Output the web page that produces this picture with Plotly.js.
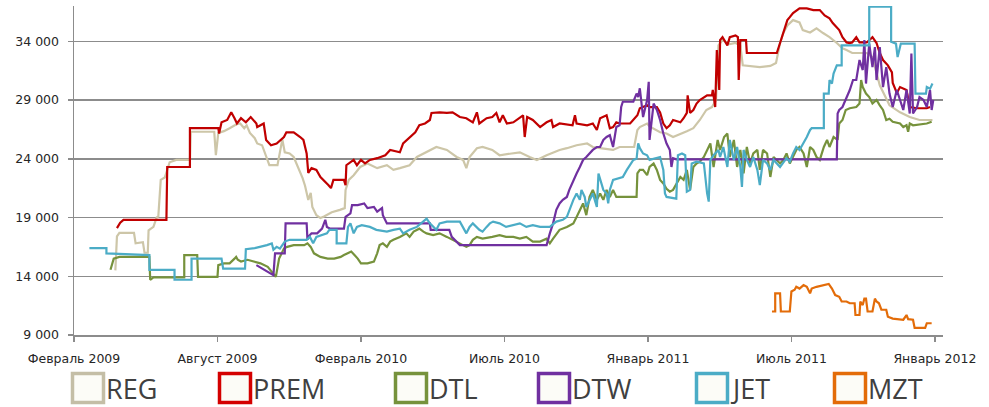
<!DOCTYPE html>
<html>
<head>
<meta charset="utf-8">
<script src="https://cdn.plot.ly/plotly-3.0.1.min.js"></script>
<style>html,body{margin:0;padding:0;background:#fff;}#chart{width:989px;height:407px;}</style>
</head>
<body>
<div id="chart"></div>
<script>
// ---- data ----
var seriesNames = ['REG', 'PREM', 'DTL', 'DTW', 'JET', 'MZT'];
var seriesColors = ['#cdc6a8', '#c00000', '#76923c', '#7030a0', '#4bacc6', '#e36c09'];
var legendColors = ['#c4bea6', '#d40000', '#76923c', '#7030a0', '#4bacc6', '#e36c09'];

var xTickDates = ['2009-02-15', '2009-08-11', '2010-02-04', '2010-07-31', '2011-01-24', '2011-07-20', '2012-01-13'];
var xTickLabels = ['Февраль 2009', 'Август 2009', 'Февраль 2010', 'Июль 2010', 'Январь 2011', 'Июль 2011', 'Январь 2012'];
var yTickValues = [9000, 14000, 19000, 24000, 29000, 34000];

var regDates = ['2009-04-07','2009-04-09','2009-04-12','2009-04-30','2009-05-02','2009-05-11','2009-05-13','2009-05-17','2009-05-18','2009-05-24','2009-05-28','2009-05-30','2009-06-02','2009-06-07','2009-06-13','2009-06-21','2009-07-08','2009-07-09','2009-08-07','2009-08-09','2009-08-12','2009-08-19','2009-08-26','2009-09-04','2009-09-08','2009-09-13','2009-09-16','2009-09-20','2009-09-26','2009-09-29','2009-10-05','2009-10-10','2009-10-14','2009-10-24','2009-10-27','2009-10-30','2009-11-02','2009-11-08','2009-11-13','2009-11-18','2009-11-21','2009-11-24','2009-11-27','2009-12-01','2009-12-04','2009-12-06','2009-12-11','2009-12-16','2009-12-21','2009-12-30','2010-01-09','2010-01-15','2010-01-16','2010-01-20','2010-01-26','2010-02-03','2010-02-12','2010-02-24','2010-03-08','2010-03-16','2010-03-24','2010-04-05','2010-04-14','2010-04-26','2010-05-08','2010-05-21','2010-06-02','2010-06-10','2010-06-14','2010-06-18','2010-06-27','2010-07-04','2010-07-16','2010-07-25','2010-08-06','2010-08-19','2010-08-31','2010-09-09','2010-09-21','2010-09-29','2010-10-07','2010-10-16','2010-10-28','2010-11-10','2010-11-17','2010-11-26','2010-12-12','2010-12-20','2011-01-07','2011-01-11','2011-01-14','2011-01-23','2011-01-26','2011-02-08','2011-02-16','2011-02-24','2011-03-05','2011-03-13','2011-03-21','2011-03-29','2011-04-06','2011-04-13','2011-04-18','2011-04-21','2011-04-26','2011-05-05','2011-05-12','2011-05-18','2011-05-21','2011-05-30','2011-06-11','2011-06-24','2011-07-01','2011-07-06','2011-07-10','2011-07-15','2011-07-22','2011-07-30','2011-08-03','2011-08-12','2011-08-20','2011-08-28','2011-09-05','2011-09-14','2011-09-21','2011-09-26','2011-10-03','2011-10-12','2011-10-21','2011-10-28','2011-11-06','2011-11-18','2011-12-01','2011-12-13','2011-12-25','2012-01-10'];
var regValues = [14500,17400,17700,17700,16800,16900,16000,16000,17900,18200,19000,19100,22200,22400,23700,23900,23900,26300,26300,24300,26200,26350,26600,26950,27000,26600,26850,26200,25750,25300,25150,24300,23450,23450,24450,25650,24550,24450,24150,23350,22850,22350,21700,20500,21100,19900,19200,18950,19100,19450,19650,19800,21350,22200,22600,23300,23600,23200,23450,23050,23200,23450,24150,24550,25000,24750,24150,23900,23200,24150,24900,25000,24750,24300,24450,24550,24150,23900,24300,24550,24750,24900,25150,25300,25000,24900,24750,25000,25000,26450,26700,27000,26750,26250,26150,25850,26150,26350,26600,27300,28150,28400,29000,33650,34100,33750,33850,33650,31950,31900,31800,31900,32150,33850,34700,35350,35800,35600,34950,34750,35100,34700,34350,33850,33400,33250,33000,33000,33000,32650,30250,28550,27950,27550,27300,27300];

var premDates = ['2009-04-09','2009-04-13','2009-04-17','2009-06-09','2009-06-10','2009-07-08','2009-07-08','2009-08-12','2009-08-13','2009-08-16','2009-08-23','2009-08-28','2009-09-01','2009-09-04','2009-09-09','2009-09-15','2009-09-21','2009-09-28','2009-09-29','2009-10-07','2009-10-10','2009-10-16','2009-10-23','2009-11-01','2009-11-04','2009-11-13','2009-11-21','2009-11-25','2009-11-29','2009-12-01','2009-12-05','2009-12-11','2009-12-16','2009-12-20','2009-12-26','2009-12-29','2010-01-01','2010-01-14','2010-01-16','2010-01-17','2010-01-22','2010-01-26','2010-01-30','2010-02-04','2010-02-09','2010-02-15','2010-02-24','2010-03-06','2010-03-12','2010-03-24','2010-03-28','2010-04-05','2010-04-12','2010-04-17','2010-04-24','2010-04-30','2010-05-02','2010-05-12','2010-05-21','2010-05-28','2010-06-06','2010-06-14','2010-06-22','2010-06-27','2010-06-30','2010-07-09','2010-07-16','2010-07-21','2010-07-25','2010-07-29','2010-08-03','2010-08-11','2010-08-19','2010-08-23','2010-08-25','2010-08-28','2010-09-04','2010-09-13','2010-09-21','2010-09-27','2010-09-29','2010-10-07','2010-10-23','2010-10-26','2010-10-28','2010-11-10','2010-11-17','2010-11-22','2010-11-26','2010-12-04','2010-12-08','2010-12-12','2010-12-16','2010-12-20','2011-01-02','2011-01-11','2011-01-14','2011-01-23','2011-01-26','2011-02-04','2011-02-08','2011-02-12','2011-02-16','2011-02-20','2011-02-24','2011-03-05','2011-03-09','2011-03-13','2011-03-14','2011-03-17','2011-03-21','2011-03-25','2011-03-29','2011-04-07','2011-04-13','2011-04-14','2011-04-17','2011-04-19','2011-04-22','2011-04-23','2011-04-26','2011-05-02','2011-05-05','2011-05-12','2011-05-15','2011-05-16','2011-05-18','2011-05-25','2011-05-26','2011-06-11','2011-06-27','2011-07-02','2011-07-06','2011-07-10','2011-07-15','2011-07-18','2011-07-22','2011-07-30','2011-08-08','2011-08-16','2011-08-24','2011-08-30','2011-09-05','2011-09-09','2011-09-17','2011-09-21','2011-09-26','2011-09-30','2011-10-03','2011-10-08','2011-10-12','2011-10-21','2011-10-28','2011-11-02','2011-11-06','2011-11-10','2011-11-16','2011-11-21','2011-11-22','2011-11-27','2011-12-01','2011-12-09','2011-12-13','2011-12-22','2012-01-03','2012-01-07'];
var premValues = [18100,18550,18800,18800,23300,23300,26600,26600,26150,27100,27300,27950,27450,27000,27450,27100,27550,27000,26700,27000,25600,25150,25300,25850,26250,26250,25850,25600,24450,22800,23200,23050,22450,22200,21750,21500,22200,22200,21750,23450,23700,23900,23450,23900,23600,23900,24050,24300,24750,24550,25300,25850,26250,26850,27000,27300,27900,27950,27900,27950,27550,27450,27100,27950,27000,27450,27550,27900,27100,27700,27000,27100,27550,27700,25850,27550,27300,26700,27100,27300,26700,27000,26850,27700,27000,26850,27000,26450,27450,27700,26600,26700,27100,27000,27000,27700,28300,28550,28400,28400,27950,27000,26600,26850,27300,27100,27450,27900,29400,27900,28150,28700,29000,29400,29400,29850,28400,33250,29850,34100,34350,33650,34350,34500,34350,30700,34100,34100,33000,33000,33050,33000,33850,34700,35800,36050,36400,36800,36800,36650,36650,36200,35950,35550,34950,34350,33900,33850,33900,34350,33900,33900,34350,33850,33000,32400,31950,31350,30450,29600,30100,29850,28400,28300,28300,28400];

var dtlDates = ['2009-04-01','2009-04-05','2009-04-12','2009-05-19','2009-05-20','2009-05-24','2009-07-01','2009-07-01','2009-07-17','2009-07-18','2009-08-11','2009-08-12','2009-08-19','2009-08-26','2009-09-01','2009-09-03','2009-09-05','2009-09-09','2009-09-17','2009-09-25','2009-10-03','2009-10-12','2009-10-18','2009-10-22','2009-10-26','2009-11-01','2009-11-05','2009-11-13','2009-11-26','2009-11-30','2009-12-04','2009-12-08','2009-12-16','2009-12-25','2010-01-02','2010-01-10','2010-01-14','2010-01-18','2010-01-23','2010-01-27','2010-01-31','2010-02-04','2010-02-12','2010-02-20','2010-02-24','2010-02-27','2010-03-03','2010-03-08','2010-03-12','2010-03-16','2010-03-20','2010-03-24','2010-04-01','2010-04-05','2010-04-10','2010-04-14','2010-04-17','2010-04-22','2010-04-26','2010-05-04','2010-05-12','2010-05-21','2010-05-28','2010-06-06','2010-06-14','2010-06-18','2010-06-22','2010-06-27','2010-07-04','2010-07-16','2010-07-25','2010-08-02','2010-08-11','2010-08-19','2010-08-27','2010-09-04','2010-09-13','2010-09-21','2010-09-25','2010-09-29','2010-10-07','2010-10-16','2010-10-24','2010-10-28','2010-11-01','2010-11-05','2010-11-09','2010-11-13','2010-11-17','2010-11-22','2010-11-26','2010-11-30','2010-12-04','2010-12-08','2010-12-12','2010-12-16','2011-01-10','2011-01-11','2011-01-14','2011-01-18','2011-01-23','2011-01-26','2011-01-31','2011-02-04','2011-02-08','2011-02-12','2011-02-16','2011-02-20','2011-02-24','2011-02-28','2011-03-05','2011-03-09','2011-03-13','2011-03-17','2011-03-21','2011-03-25','2011-03-29','2011-04-03','2011-04-07','2011-04-11','2011-04-15','2011-04-20','2011-04-23','2011-04-28','2011-05-02','2011-05-05','2011-05-10','2011-05-14','2011-05-18','2011-05-22','2011-05-26','2011-05-30','2011-06-03','2011-06-08','2011-06-11','2011-06-15','2011-06-20','2011-06-24','2011-06-28','2011-07-02','2011-07-06','2011-07-10','2011-07-14','2011-07-18','2011-07-22','2011-07-26','2011-07-30','2011-08-04','2011-08-08','2011-08-12','2011-08-16','2011-08-20','2011-08-24','2011-08-29','2011-09-02','2011-09-05','2011-09-10','2011-09-15','2011-09-17','2011-09-21','2011-09-25','2011-09-30','2011-10-08','2011-10-12','2011-10-14','2011-10-16','2011-10-20','2011-10-24','2011-10-28','2011-11-02','2011-11-06','2011-11-10','2011-11-14','2011-11-18','2011-11-22','2011-12-01','2011-12-05','2011-12-09','2011-12-11','2011-12-13','2011-12-17','2012-01-03','2012-01-09'];
var dtlValues = [14550,15500,15650,15650,13700,13900,13900,15800,15800,13950,13950,14950,15100,15100,15500,15650,15400,15250,15400,15250,15100,14800,14250,13950,15500,16350,16500,16650,16650,16800,16500,15950,15650,15500,15500,15650,15800,15950,16100,15800,15500,15100,15100,15250,15950,16650,16800,16500,16950,17100,17200,17350,17650,17350,17800,17950,18050,17800,17650,17500,17650,17350,17100,16800,16500,16650,17100,17350,17200,17350,17500,17350,17350,17200,17350,16950,16950,17200,16800,17200,17950,18200,18500,19050,19650,20200,19200,20750,21350,20500,21050,20500,21350,20750,21350,20750,20750,22750,23050,23050,22600,23300,23600,23050,22200,21900,21450,21200,21350,21900,22450,22200,23050,21350,23300,23600,23750,24150,24750,25300,23300,25600,24750,25850,26150,24150,25600,23300,24750,22750,25000,23600,24450,24750,23050,24750,24450,22450,24150,23900,23600,23900,24450,23600,24150,24750,25000,24450,23300,25000,24750,24150,23900,25000,25600,25000,25850,25600,27000,27300,28150,28300,28400,28700,30700,30100,29550,29250,28700,29000,28550,28150,27300,27400,27150,27000,26700,26850,26300,27000,26850,27000,27150];

var dtwDates = ['2009-09-28','2009-10-02','2009-10-07','2009-10-15','2009-10-19','2009-10-21','2009-11-02','2009-11-03','2009-11-29','2009-11-30','2009-12-01','2009-12-05','2009-12-12','2009-12-18','2009-12-22','2009-12-24','2009-12-28','2010-01-14','2010-01-16','2010-01-22','2010-01-24','2010-01-31','2010-02-08','2010-02-12','2010-02-20','2010-02-24','2010-03-02','2010-03-03','2010-03-08','2010-04-30','2010-05-01','2010-05-24','2010-05-27','2010-06-06','2010-09-21','2010-09-25','2010-09-29','2010-10-03','2010-10-07','2010-10-11','2010-10-16','2010-10-19','2010-10-24','2010-10-28','2010-11-01','2010-11-05','2010-11-09','2010-11-13','2010-11-17','2010-11-22','2010-11-26','2010-11-30','2010-12-04','2010-12-08','2010-12-12','2010-12-16','2010-12-20','2010-12-22','2010-12-24','2011-01-06','2011-01-10','2011-01-12','2011-01-14','2011-01-18','2011-01-23','2011-01-25','2011-01-26','2011-01-31','2011-02-04','2011-02-08','2011-02-12','2011-02-16','2011-02-20','2011-02-22','2011-02-24','2011-02-28','2011-09-14','2011-09-15','2011-09-17','2011-09-21','2011-09-25','2011-09-30','2011-10-04','2011-10-08','2011-10-12','2011-10-16','2011-10-18','2011-10-20','2011-10-24','2011-10-28','2011-10-31','2011-11-02','2011-11-06','2011-11-10','2011-11-14','2011-11-18','2011-11-22','2011-11-27','2011-12-01','2011-12-05','2011-12-09','2011-12-13','2011-12-15','2011-12-17','2011-12-22','2011-12-25','2011-12-30','2012-01-03','2012-01-07','2012-01-09','2012-01-11'];
var dtwValues = [14950,14800,14550,14250,14100,15950,15950,18500,18500,17100,17350,17650,17650,18050,18800,18200,18050,18050,19050,19350,20050,20050,20200,19800,19900,19500,19800,19200,18500,18500,17950,17950,17350,16650,16650,17650,18500,19650,20200,20500,20750,21350,22200,22750,23300,23900,24150,24450,24750,25000,25000,25600,25850,26000,25000,26700,26850,28400,28850,28850,29550,29250,30000,27550,29000,30550,25600,28700,28150,27300,26150,25300,24750,23300,24050,23950,23950,27850,28150,28400,29000,29850,30700,30700,32400,31550,34100,30400,33800,31800,33500,30700,33500,30100,31800,29550,28400,29850,29000,28150,29850,27850,32950,27850,28400,29250,29000,28400,29850,28150,29000];

var jetDates = ['2009-03-06','2009-03-27','2009-03-27','2009-05-19','2009-05-19','2009-06-19','2009-06-19','2009-07-10','2009-07-10','2009-08-16','2009-08-18','2009-09-14','2009-09-15','2009-09-26','2009-10-11','2009-10-17','2009-10-19','2009-10-23','2009-10-27','2009-11-02','2009-11-08','2009-11-29','2009-12-03','2009-12-07','2009-12-11','2009-12-24','2009-12-27','2010-01-05','2010-01-05','2010-01-17','2010-01-19','2010-01-22','2010-01-26','2010-01-30','2010-02-05','2010-02-15','2010-02-23','2010-03-08','2010-03-16','2010-03-24','2010-03-28','2010-04-05','2010-04-14','2010-04-22','2010-04-26','2010-04-30','2010-05-08','2010-05-12','2010-05-21','2010-06-06','2010-06-10','2010-06-14','2010-06-18','2010-06-22','2010-06-30','2010-07-04','2010-07-09','2010-07-13','2010-07-17','2010-07-25','2010-08-02','2010-08-11','2010-08-19','2010-08-27','2010-09-04','2010-09-13','2010-09-25','2010-10-03','2010-10-11','2010-10-16','2010-10-19','2010-10-24','2010-10-28','2010-11-01','2010-11-03','2010-11-07','2010-11-09','2010-11-13','2010-11-17','2010-11-22','2010-11-24','2010-11-30','2010-12-04','2010-12-06','2010-12-08','2010-12-12','2010-12-16','2010-12-24','2010-12-29','2011-01-06','2011-01-10','2011-01-12','2011-01-14','2011-01-18','2011-01-23','2011-01-26','2011-02-08','2011-02-12','2011-02-14','2011-02-16','2011-02-28','2011-03-02','2011-03-07','2011-03-11','2011-03-13','2011-03-17','2011-03-19','2011-03-25','2011-04-03','2011-04-05','2011-04-07','2011-04-09','2011-04-11','2011-04-15','2011-04-21','2011-04-23','2011-04-27','2011-05-02','2011-05-05','2011-05-10','2011-05-14','2011-05-18','2011-05-20','2011-05-22','2011-05-26','2011-05-30','2011-06-03','2011-06-08','2011-06-11','2011-06-15','2011-06-20','2011-06-24','2011-06-28','2011-07-02','2011-07-06','2011-07-14','2011-07-18','2011-07-22','2011-07-26','2011-07-30','2011-08-04','2011-08-08','2011-08-12','2011-08-14','2011-08-29','2011-08-29','2011-09-04','2011-09-05','2011-09-08','2011-09-10','2011-09-14','2011-09-20','2011-09-20','2011-10-24','2011-10-24','2011-11-20','2011-11-20','2011-11-26','2011-11-28','2011-12-02','2011-12-19','2011-12-20','2012-01-02','2012-01-03','2012-01-07','2012-01-10'];
var jetValues = [16400,16400,15950,15800,14550,14550,13700,13700,15500,15500,14650,14650,16300,16400,16650,16800,16250,16500,16350,16950,17100,17100,17350,16800,17350,17650,17950,17950,16800,16800,18200,18500,17650,18200,18350,18200,17950,17800,17950,18050,17650,17950,18200,18650,18900,18500,17950,18500,18650,18650,18200,17650,18200,18500,17950,17800,18200,18500,18650,18500,18200,18350,18500,18200,18350,18200,18200,18650,18800,19050,19650,20500,21050,20500,21350,20750,19900,20500,21050,19900,22750,21350,21050,20200,21350,22200,22300,22450,23050,23900,24000,25300,24900,24450,24300,23900,24150,23050,21050,20750,20600,24300,24450,24300,21200,21350,23600,23750,23600,22200,21050,20350,23900,24300,24750,24150,25000,23300,25600,23900,25000,23300,21600,24750,23900,23300,24150,23050,21750,23900,23600,23050,23900,23600,23300,24050,23750,24450,25000,24750,25300,25850,26450,26600,26600,29550,29550,30700,30400,31250,31950,31950,33650,33650,36950,36950,33950,33800,32650,33800,33800,29550,29550,30100,29950,30400];

var mztDates = ['2011-06-26','2011-06-30','2011-06-30','2011-07-06','2011-07-07','2011-07-18','2011-07-20','2011-07-24','2011-07-26','2011-07-30','2011-08-04','2011-08-08','2011-08-12','2011-08-14','2011-08-20','2011-08-29','2011-09-04','2011-09-08','2011-09-12','2011-09-17','2011-09-20','2011-09-26','2011-09-30','2011-10-06','2011-10-07','2011-10-12','2011-10-13','2011-10-16','2011-10-18','2011-10-20','2011-10-22','2011-10-28','2011-10-31','2011-11-02','2011-11-05','2011-11-08','2011-11-14','2011-11-16','2011-11-22','2011-12-05','2011-12-09','2011-12-11','2011-12-17','2011-12-19','2012-01-01','2012-01-03','2012-01-09'];
var mztValues = [11000,11000,12550,12550,11000,11000,12700,12850,13100,12950,13250,13100,12550,12950,13100,13250,13350,12950,12400,12250,11850,11850,11700,11700,10700,10700,11850,11550,12100,12100,11000,11000,12100,11850,11700,11150,11150,10550,10400,10300,10700,10350,10300,9600,9600,10000,10000];

var allDates = [regDates, premDates, dtlDates, dtwDates, jetDates, mztDates];
var allValues = [regValues, premValues, dtlValues, dtwValues, jetValues, mztValues];

// ---- layout geometry ----
var W = 989, H = 407;
var M = {l: 74, r: 46, t: 6, b: 72};
var plotW = W - M.l - M.r, plotH = H - M.t - M.b;
function pxX(px) { return (px - M.l) / plotW; }
function pxY(py) { return (H - M.b - py) / plotH; }

var legendBoxLeft = [71, 218, 394, 537, 695, 833];
var legendBoxSize = 34, legendBoxTop = 372, legendBoxBottom = 404;

var traces = seriesNames.map(function (name, i) {
  return {
    type: 'scatter', mode: 'lines', name: name,
    x: allDates[i], y: allValues[i],
    line: {color: seriesColors[i], width: 2.2},
    showlegend: false, hoverinfo: 'skip'
  };
});

var shapes = [], annotations = [];
seriesNames.forEach(function (name, i) {
  var x0 = legendBoxLeft[i];
  shapes.push({
    type: 'rect', xref: 'paper', yref: 'paper',
    x0: pxX(x0 + 1.5), x1: pxX(x0 + legendBoxSize - 1.5),
    y0: pxY(legendBoxBottom - 1.5), y1: pxY(legendBoxTop + 1.5),
    line: {color: legendColors[i], width: 3.5}, fillcolor: '#fcfcf7'
  });
  annotations.push({
    xref: 'paper', yref: 'paper', x: pxX(x0 + legendBoxSize), y: pxY(388),
    xanchor: 'left', yanchor: 'middle', showarrow: false, text: name,
    borderpad: 0,
    font: {family: 'Open Sans, sans-serif', size: 27, color: '#404040'}
  });
});

var layout = {
  width: W, height: H, margin: M,
  paper_bgcolor: '#ffffff', plot_bgcolor: '#ffffff',
  separators: ', ',
  font: {family: 'DejaVu Sans, sans-serif', size: 12, color: '#262626'},
  xaxis: {
    type: 'date', range: ['2009-02-15', '2012-01-23'],
    tickmode: 'array', tickvals: xTickDates, ticktext: xTickLabels,
    showgrid: false, zeroline: false,
    showline: true, linecolor: '#8c8c8c', linewidth: 1.5,
    ticks: 'outside', ticklen: 5, tickwidth: 1.5, tickcolor: '#8c8c8c',
    ticklabelstandoff: 6,
    tickfont: {family: 'DejaVu Sans, sans-serif', size: 12.5, color: '#262626'}
  },
  yaxis: {
    range: [9000, 37000],
    tickmode: 'array', tickvals: yTickValues, tickformat: ',d',
    showgrid: true, gridcolor: '#8c8c8c', gridwidth: 1.5,
    zeroline: false,
    showline: true, linecolor: '#8c8c8c', linewidth: 1.5,
    ticks: 'outside', ticklen: 5, tickwidth: 1.5, tickcolor: '#8c8c8c',
    ticklabelstandoff: 6,
    tickfont: {family: 'DejaVu Sans, sans-serif', size: 12.5, color: '#262626'}
  },
  shapes: shapes,
  annotations: annotations
};

Plotly.newPlot('chart', traces, layout, {displayModeBar: false, staticPlot: true});
</script>
</body>
</html>
